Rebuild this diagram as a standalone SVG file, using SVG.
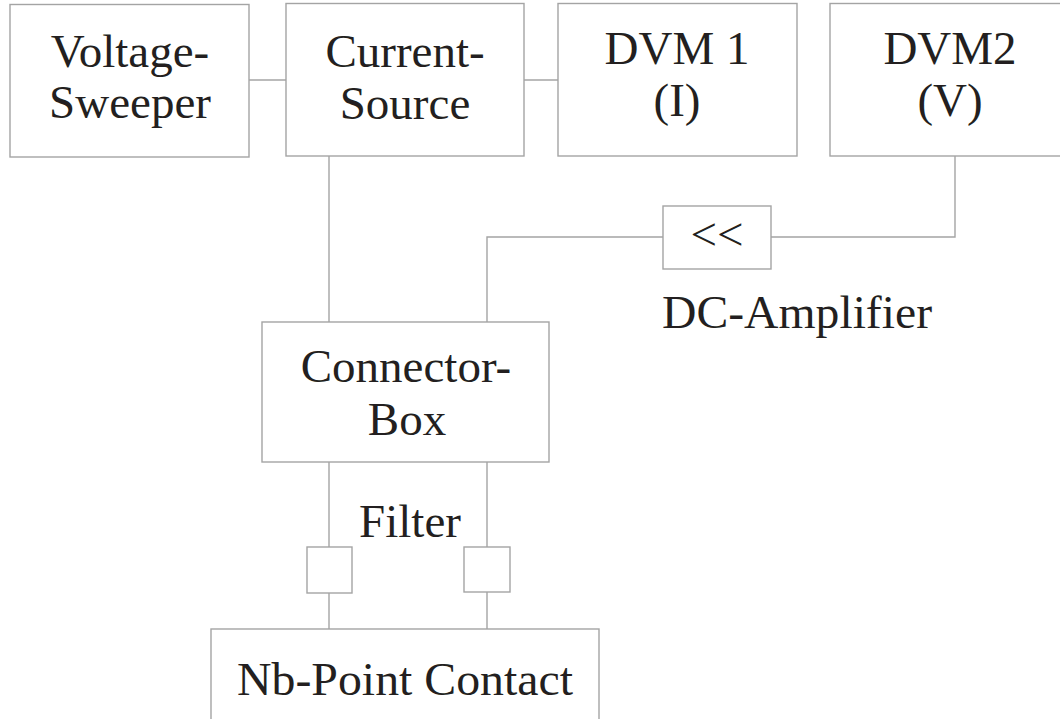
<svg xmlns="http://www.w3.org/2000/svg" width="1060" height="719" viewBox="0 0 1060 719">
<style>
.box{fill:#fff;stroke:#a4a4a4;stroke-width:1.4}
.ln{fill:none;stroke:#a4a4a4;stroke-width:1.4}
text{font-family:"Liberation Serif","Times New Roman",serif;font-size:47px;fill:#231f20;text-anchor:middle}
</style>
<rect width="1060" height="719" fill="#fff"/>
<g id="connectors">
<line class="ln" x1="249" y1="80" x2="286" y2="80"/>
<line class="ln" x1="524" y1="80" x2="558" y2="80"/>
<line class="ln" x1="329" y1="156" x2="329" y2="322"/>
<polyline class="ln" points="487,322 487,237 663,237"/>
<polyline class="ln" points="771,237 955,237 955,156"/>
<line class="ln" x1="329" y1="462" x2="329" y2="547"/>
<line class="ln" x1="329" y1="593" x2="329" y2="629"/>
<line class="ln" x1="487" y1="462" x2="487" y2="547"/>
<line class="ln" x1="487" y1="592" x2="487" y2="629"/>
</g>
<g id="voltage-sweeper">
<rect class="box" x="10" y="4.5" width="239" height="152.5"/>
<text x="130" y="67">Voltage-</text>
<text x="130" y="118">Sweeper</text>
</g>
<g id="current-source">
<rect class="box" x="286" y="3.5" width="238" height="152.5"/>
<text x="405" y="67">Current-</text>
<text x="405" y="119">Source</text>
</g>
<g id="dvm1">
<rect class="box" x="558" y="3.5" width="239" height="152.5"/>
<text x="677" y="64">DVM 1</text>
<text x="677" y="116">(I)</text>
</g>
<g id="dvm2">
<rect class="box" x="830" y="3.5" width="240" height="152.5"/>
<text x="950" y="64">DVM2</text>
<text x="950" y="116">(V)</text>
</g>
<g id="dc-amplifier">
<rect class="box" x="663" y="206" width="108" height="63"/>
<text x="717" y="250">&lt;&lt;</text>
<text x="797" y="328" textLength="270" lengthAdjust="spacingAndGlyphs">DC-Amplifier</text>
</g>
<g id="connector-box">
<rect class="box" x="262" y="322" width="287" height="140"/>
<text x="406" y="382">Connector-</text>
<text x="407" y="435">Box</text>
</g>
<g id="filter">
<text x="410" y="537">Filter</text>
<rect class="box" x="307" y="547" width="45" height="46"/>
<rect class="box" x="464" y="547" width="46" height="45"/>
</g>
<g id="nb-point-contact">
<rect class="box" x="211" y="629" width="388" height="110"/>
<text x="405" y="695" textLength="336" lengthAdjust="spacingAndGlyphs">Nb-Point Contact</text>
</g>
</svg>
